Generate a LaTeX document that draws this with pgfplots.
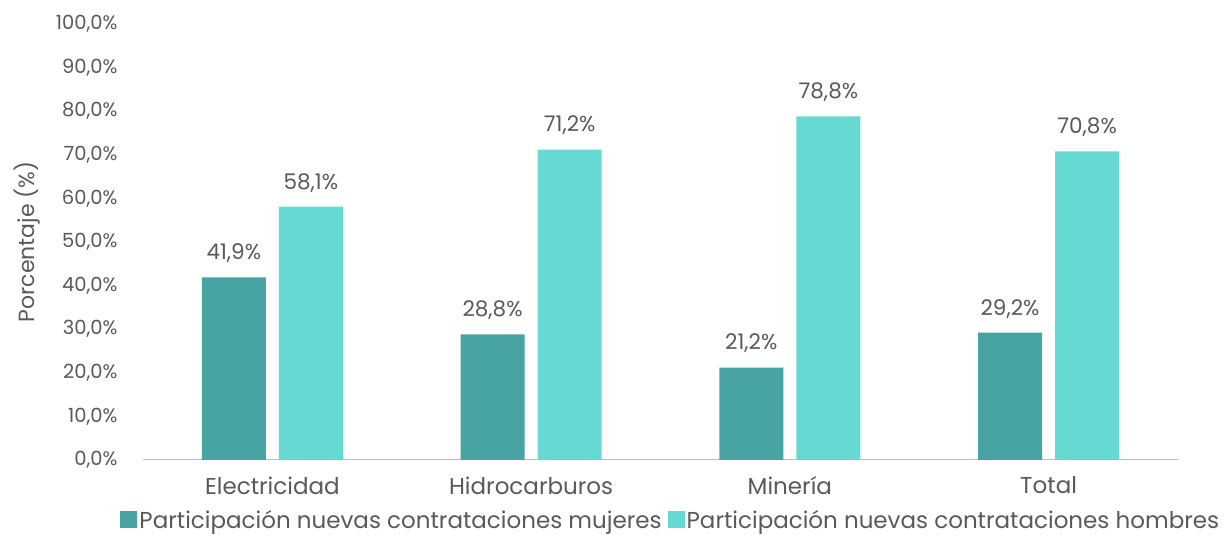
\documentclass[border=0pt]{standalone}
\usepackage{pgfplots}
\pgfplotsset{compat=1.18}
\usepackage{fontspec}
\setmainfont{Poppins}
\definecolor{dteal}{HTML}{48A4A2}
\definecolor{lteal}{HTML}{66D9D2}
\definecolor{txt}{HTML}{595959}
\definecolor{axl}{HTML}{BFBFBF}
\begin{document}
\begin{tikzpicture}
\useasboundingbox (-143pt,-75pt) rectangle (1084pt,460pt);
\begin{axis}[
  scale only axis,
  width=1035pt, height=436pt,
  xmin=-0.5, xmax=3.5, ymin=0, ymax=100,
  axis x line*=bottom, axis y line*=left,
  x axis line style={draw=axl, line width=1pt, -},
  y axis line style={draw=none},
  xtick={0,1,2,3},
  xticklabels={Electricidad,Hidrocarburos,Minería,Total},
  major tick length=0pt,
  ytick={0,10,...,100},
  /pgf/number format/assume math mode=true,
  yticklabel={\pgfmathprintnumber[fixed,fixed zerofill,precision=1,use comma]{\tick}\%},
  yticklabel style={font=\fontsize{19.5}{22}\selectfont, text=txt, xshift=-22pt},
  xticklabel style={font=\fontsize{23}{27}\selectfont, text=txt, yshift=-13pt},
  ylabel={Porcentaje (\%)},
  ylabel style={at={(axis description cs:-0.112,0.5)}, anchor=center, font=\fontsize{22}{26}\selectfont, text=txt},
  ybar, bar width=0.247,
  nodes near coords={\pgfmathprintnumber[fixed,fixed zerofill,precision=1,use comma]{\pgfplotspointmeta}\%},
  nodes near coords style={font=\fontsize{21.5}{25}\selectfont, text=txt, yshift=11pt},
  legend columns=2,
  legend style={at={(0.510,-0.138)}, anchor=center, draw=none, fill=none,
    font=\fontsize{23}{27}\selectfont, text=txt,
    /tikz/every even column/.append style={column sep=4pt}},
  legend image code/.code={\fill[#1] (0pt,-8pt) rectangle (17pt,9pt);},
  legend cell align=left,
]
\addplot[fill=dteal, draw=none, bar shift=-0.149] coordinates {(0,41.9) (1,28.8) (2,21.2) (3,29.2)};
\addplot[fill=lteal, draw=none, bar shift=0.149] coordinates {(0,58.1) (1,71.2) (2,78.8) (3,70.8)};
\legend{Participación nuevas contrataciones mujeres, Participación nuevas contrataciones hombres}
\end{axis}
\end{tikzpicture}
\end{document}
